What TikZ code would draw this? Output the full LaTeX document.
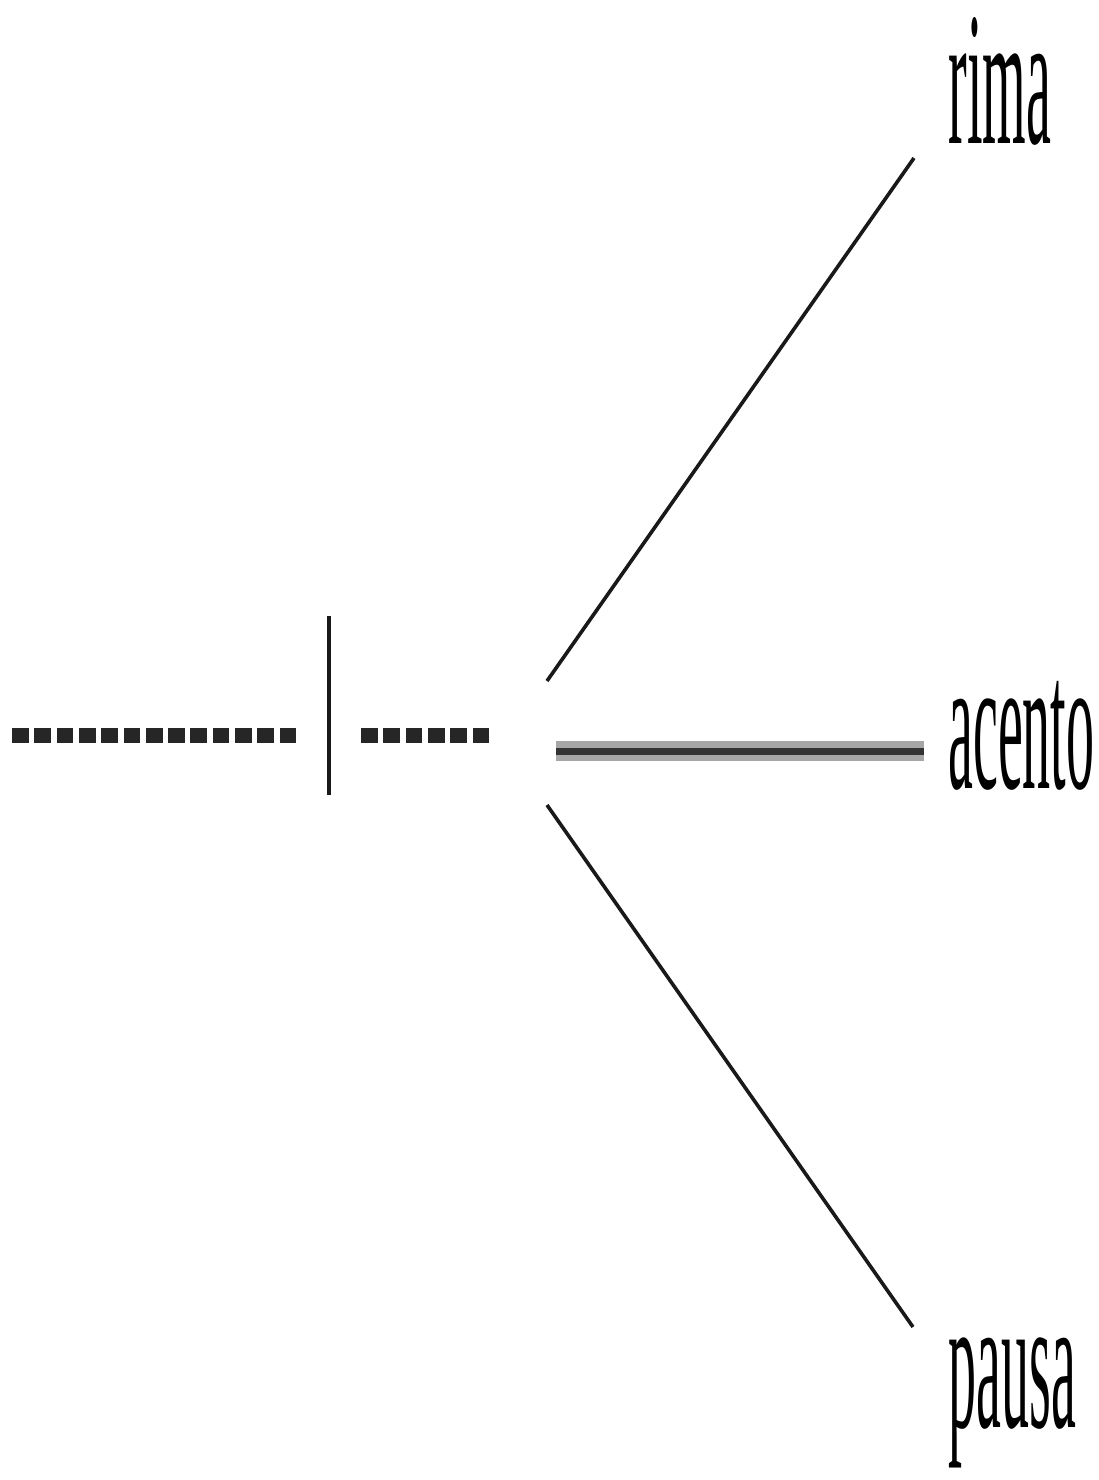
\documentclass[tikz,border=0pt]{standalone}
\usepackage{fontspec}
\setmainfont{Liberation Serif}
\usepackage{graphicx}
\usetikzlibrary{positioning}

\newcommand\tallword[1]{\scalebox{1}[3.4]{#1}}

\begin{document}
\begin{tikzpicture}[
x = 0.5pt, y = -0.5pt,
 word/.style = {inner sep=0pt, anchor=base west,
               font=\fontsize{28}{28}\selectfont},
 feet/.style = {line width=7.5pt, black!85,
               dash pattern=on 8.35pt off 2.8pt},
 tick/.style = {line width=2.4pt, black!90},
 leg/.style  = {line width=1.8pt, black!90},
 ]
\useasboundingbox (0,0) rectangle (1099,1480);
\node (rima)   [word] at (948,143)  {\tallword{rima}};
\node (acento) [word] at (948,788)  {\tallword{acento}};
\node (pausa)  [word] at (948,1427) {\tallword{pausa}};

\coordinate (v0) at (12,735);
\coordinate (v1) at (297,735);
\coordinate (v2) at (361,735);
\coordinate (v3) at (490,735);
\coordinate (cut top) at (329,616);
\coordinate (cut bot) at (329,795);

\coordinate (r0) at (547,681);
\coordinate (r1) at (914,158);
\coordinate (a0) at (556,751);
\coordinate (a1) at (924,751);
\coordinate (p0) at (547,805);
\coordinate (p1) at (913,1327);

%
\draw[feet] (v0) -- (v1);
\draw[feet] (v2) -- (v3);
\draw[tick] (cut top) -- (cut bot);
\draw[leg] (r0) -- (r1);
\draw[line width=10pt, black!35] (a0) -- (a1);
\draw[line width=3.5pt, black!80] (a0) -- (a1);
\draw[leg] (p0) -- (p1);
\end{tikzpicture}
\end{document}
